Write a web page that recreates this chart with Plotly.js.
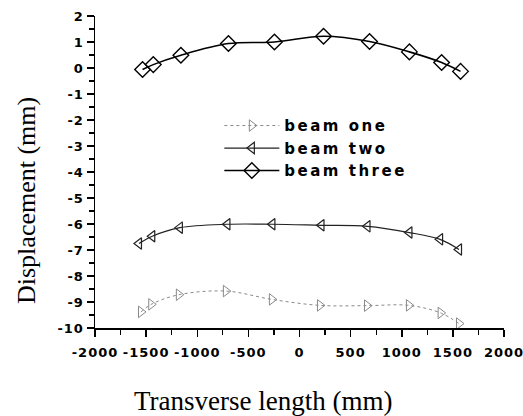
<!DOCTYPE html>
<html>
<head>
<meta charset="utf-8">
<script src="https://cdn.plot.ly/plotly-3.0.1.min.js"></script>
<style>
  html, body { margin: 0; padding: 0; background: #fff; }
  #chart { width: 523px; height: 416px; }
  .legendtext { letter-spacing: 2.5px; }
  .xtick text, .ytick text { letter-spacing: 1px; }
</style>
</head>
<body>
<div id="chart"></div>
<script>
// Data
const seriesNames = ["beam one", "beam two", "beam three"];

const beamOneX = [-1550, -1450, -1180, -720, -270, 200, 660, 1070, 1380, 1560];
const beamOneY = [-9.38, -9.09, -8.72, -8.58, -8.90, -9.13, -9.14, -9.13, -9.42, -9.83];

const beamTwoX = [-1570, -1440, -1170, -705, -265, 215, 665, 1075, 1375, 1560];
const beamTwoY = [-6.75, -6.47, -6.14, -6.01, -6.01, -6.05, -6.09, -6.33, -6.59, -6.98];

const beamThreeX = [-1535, -1430, -1160, -695, -245, 235, 685, 1075, 1390, 1575];
const beamThreeY = [-0.06, 0.13, 0.49, 0.94, 1.00, 1.22, 1.02, 0.62, 0.21, -0.13];

const xTickVals = [-2000, -1500, -1000, -500, 0, 500, 1000, 1500, 2000];
const xTickText = ["-2000", "-1500", "-1000", "-500", "0", "500", "1000", "1500", "2000"];
const yTickVals = [2, 1, 0, -1, -2, -3, -4, -5, -6, -7, -8, -9, -10];
const yTickText = ["2", "1", "0", "-1", "-2", "-3", "-4", "-5", "-6", "-7", "-8", "-9", "-10"];

const traces = [
  {
    x: beamOneX, y: beamOneY, name: seriesNames[0],
    mode: "lines+markers", type: "scatter",
    line: { color: "#8a8a8a", width: 1, dash: "dot", shape: "spline", smoothing: 1 },
    marker: { symbol: "triangle-right-open", size: 10, color: "#8a8a8a", line: { width: 1, color: "#8a8a8a" } }
  },
  {
    x: beamTwoX, y: beamTwoY, name: seriesNames[1],
    mode: "lines+markers", type: "scatter",
    line: { color: "#222", width: 1.2, shape: "spline", smoothing: 1 },
    marker: { symbol: "triangle-left-open", size: 10, color: "#222", line: { width: 1.2, color: "#222" } }
  },
  {
    x: beamThreeX, y: beamThreeY, name: seriesNames[2],
    mode: "lines+markers", type: "scatter",
    line: { color: "#000", width: 1.6, shape: "spline", smoothing: 1 },
    marker: { symbol: "diamond-open", size: 12, color: "#000", line: { width: 1.4, color: "#000" } }
  }
];

const tickFont = { family: "DejaVu Sans", size: 13, color: "#000", weight: "bold" };

const layout = {
  width: 523, height: 416,
  margin: { l: 95, r: 19, t: 16, b: 88 },
  paper_bgcolor: "#fff", plot_bgcolor: "#fff",
  showlegend: true,
  legend: {
    x: 0.304, y: 0.701, xanchor: "left", yanchor: "top",
    bgcolor: "rgba(0,0,0,0)", borderwidth: 0,
    itemwidth: 55, tracegroupgap: 0,
    font: { family: "DejaVu Sans", size: 15, color: "#000", weight: "bold" }
  },
  xaxis: {
    range: [-2000, 2000], tickvals: xTickVals, ticktext: xTickText,
    ticks: "outside", ticklen: 7, tickwidth: 1.5,
    tickcolor: "#000", showline: true, linecolor: "#000", linewidth: 1.5,
    showgrid: false, zeroline: false, tickfont: tickFont, ticklabelstandoff: 5,
    ticklabeloverflow: "allow",
    minor: { dtick: 250, ticks: "outside", ticklen: 5, tickwidth: 1.2, tickcolor: "#000", showgrid: false }
  },
  yaxis: {
    range: [-10, 2], tickvals: yTickVals, ticktext: yTickText,
    ticks: "outside", ticklen: 7, tickwidth: 1.5,
    tickcolor: "#000", showline: true, linecolor: "#000", linewidth: 1.5,
    showgrid: false, zeroline: false, tickfont: tickFont, ticklabeloverflow: "allow",
    minor: { dtick: 0.5, ticks: "outside", ticklen: 5, tickwidth: 1.2, tickcolor: "#000", showgrid: false }
  },
  annotations: [
    {
      text: "Transverse length (mm)", xref: "paper", yref: "paper",
      x: (262.5 - 95) / 409, y: -(401 - 328) / 312, xanchor: "center", yanchor: "middle",
      showarrow: false, font: { family: "Liberation Serif", size: 27, color: "#000" }
    },
    {
      text: "Displacement (mm)", xref: "paper", yref: "paper",
      x: -(95 - 26) / 409, y: (328 - 201) / 312, xanchor: "center", yanchor: "middle",
      textangle: -90,
      showarrow: false, font: { family: "Liberation Serif", size: 26, color: "#000" }
    }
  ]
};

Plotly.newPlot("chart", traces, layout, { displayModeBar: false, staticPlot: true });
</script>
</body>
</html>
